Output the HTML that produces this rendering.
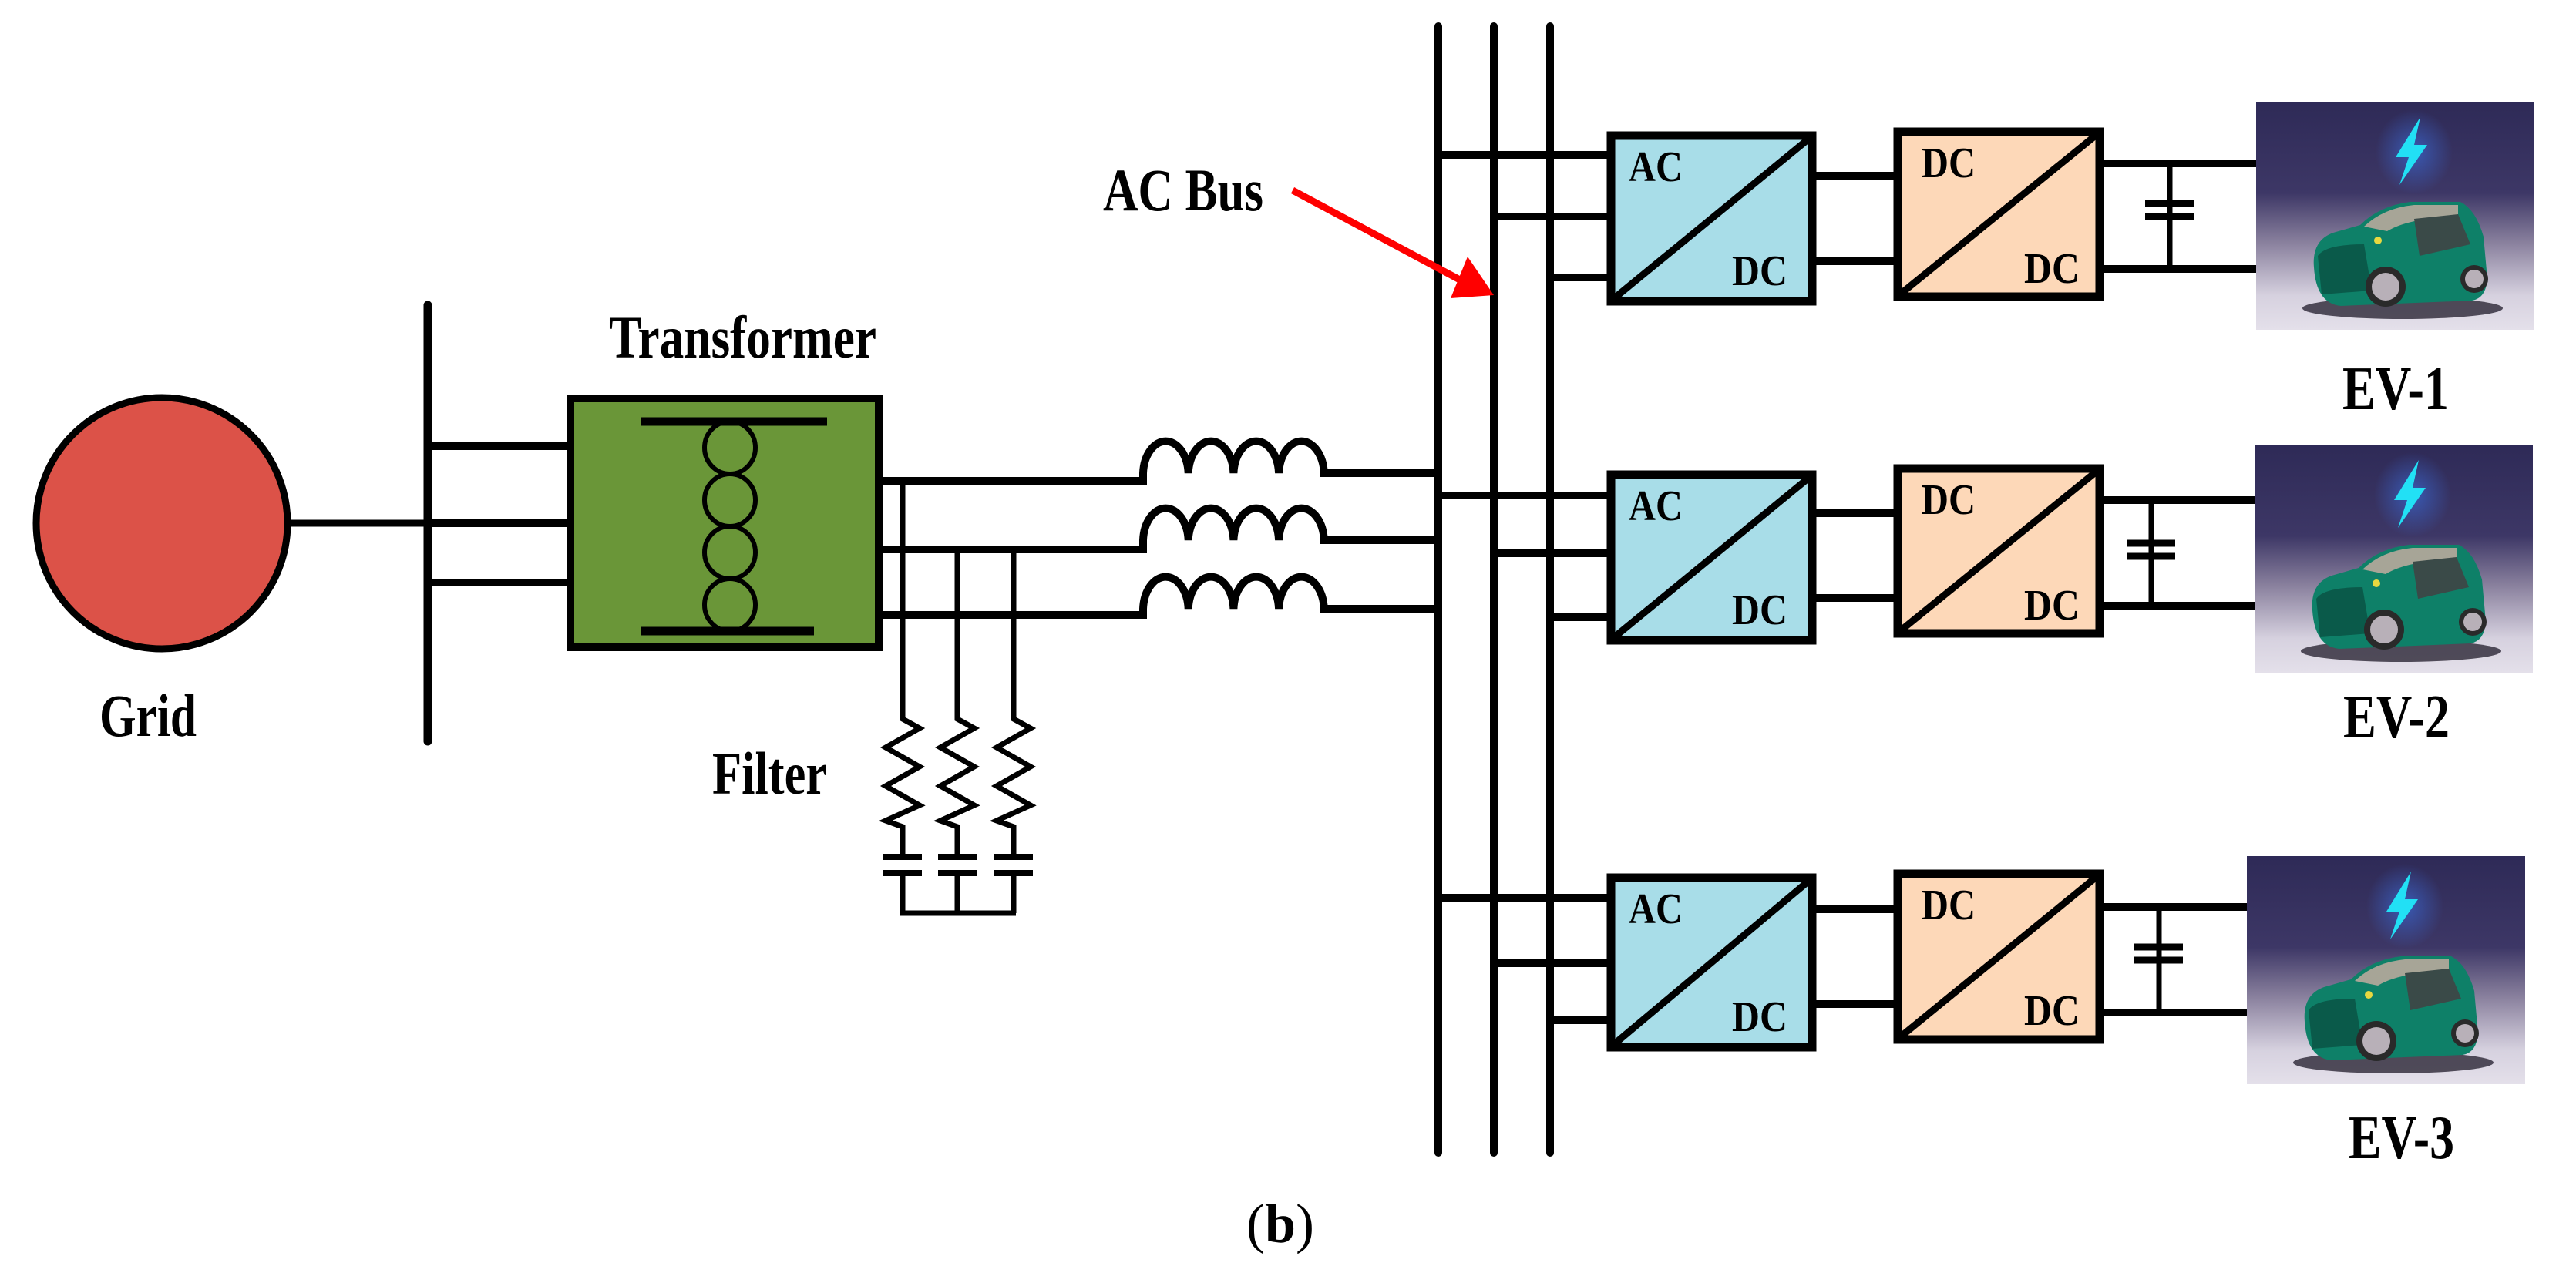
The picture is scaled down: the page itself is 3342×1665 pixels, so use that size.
<!DOCTYPE html>
<html><head><meta charset="utf-8"><style>
html,body{margin:0;padding:0;background:#fff}
svg{display:block}
text{font-family:"Liberation Serif",serif;font-weight:bold;fill:#000}
</style></head><body>
<svg width="3342" height="1665" viewBox="0 0 3342 1665" xmlns="http://www.w3.org/2000/svg">
<defs>
<linearGradient id="bg" x1="0" y1="0" x2="0" y2="1">
<stop offset="0" stop-color="#2e2a57"/><stop offset="0.4" stop-color="#3d3766"/><stop offset="0.62" stop-color="#8a819e"/><stop offset="0.85" stop-color="#d6d1df"/><stop offset="1" stop-color="#e4e0ea"/>
</linearGradient>
<radialGradient id="glow" cx="0.5" cy="0.5" r="0.5"><stop offset="0" stop-color="#3a6ad8" stop-opacity="0.7"/><stop offset="1" stop-color="#3a6ad8" stop-opacity="0"/></radialGradient>
<g id="ev">
<rect x="0" y="0" width="361" height="296" fill="url(#bg)"/>
<ellipse cx="205" cy="65" rx="50" ry="55" fill="url(#glow)"/>
<polygon points="213,20 181,72 198,72 186,108 222,56 205,56" fill="#22e0f5"/>
<ellipse cx="190" cy="268" rx="130" ry="14" fill="#2a2535" opacity="0.8"/>
<path d="M75,215 Q72,180 100,170 L135,160 Q160,135 200,130 L265,130 Q285,140 295,175 L300,230 Q298,255 280,258 L110,265 Q78,262 75,215Z" fill="#0e8068"/>
<path d="M140,162 Q165,138 205,134 L262,134 L262,150 Q200,150 170,168Z" fill="#a7a597"/>
<path d="M205,152 L262,146 L278,185 L212,200Z" fill="#3a4a48"/>
<path d="M80,200 Q90,185 140,185 L150,245 L85,250Z" fill="#0a5a4a"/>
<circle cx="168" cy="240" r="26" fill="#2a2a2a"/><circle cx="168" cy="240" r="18" fill="#b8b0b8"/>
<circle cx="283" cy="230" r="18" fill="#2a2a2a"/><circle cx="283" cy="230" r="12" fill="#b8b0b8"/>
<circle cx="158" cy="180" r="5" fill="#e8d840"/>
</g>
</defs>

<!-- grid -->
<circle cx="210" cy="679" r="163" fill="#dc5248" stroke="#000" stroke-width="9"/>
<line x1="373" y1="679" x2="555" y2="679" stroke="#000" stroke-width="9"/>
<line x1="555" y1="396" x2="555" y2="962" stroke="#000" stroke-width="11" stroke-linecap="round"/>
<g stroke="#000" stroke-width="10">
<line x1="555" y1="579" x2="740" y2="579"/>
<line x1="555" y1="679" x2="740" y2="679"/>
<line x1="555" y1="756" x2="740" y2="756"/>
</g>
<text x="129" y="955" font-size="78" textLength="126" lengthAdjust="spacingAndGlyphs">Grid</text>

<!-- transformer -->
<text x="790" y="464" font-size="78" textLength="347" lengthAdjust="spacingAndGlyphs">Transformer</text>
<rect x="740" y="517" width="400" height="323" fill="#6a9638" stroke="#000" stroke-width="10"/>
<line x1="832" y1="547" x2="1073" y2="547" stroke="#000" stroke-width="11"/>
<line x1="832" y1="819" x2="1056" y2="819" stroke="#000" stroke-width="11"/>
<g fill="none" stroke="#000" stroke-width="6">
<ellipse cx="947" cy="581" rx="33" ry="34"/>
<ellipse cx="947" cy="649" rx="33" ry="34"/>
<ellipse cx="947" cy="717" rx="33" ry="34"/>
<ellipse cx="947" cy="785" rx="33" ry="34"/>
</g>

<!-- lines to coils -->
<g stroke="#000" stroke-width="10" fill="none">
<path d="M1140,624 H1483 V614 a29.4,44 0 0 1 58.7,0 a29.4,44 0 0 1 58.7,0 a29.4,44 0 0 1 58.7,0 a29.4,44 0 0 1 58.7,0 V614 H1866"/>
<path d="M1140,713 H1483 V701 a29.4,44 0 0 1 58.7,0 a29.4,44 0 0 1 58.7,0 a29.4,44 0 0 1 58.7,0 a29.4,44 0 0 1 58.7,0 H1866"/>
<path d="M1140,798 H1483 V790 a29.4,44 0 0 1 58.7,0 a29.4,44 0 0 1 58.7,0 a29.4,44 0 0 1 58.7,0 a29.4,44 0 0 1 58.7,0 H1866"/>
</g>

<!-- filter -->
<g stroke="#000" stroke-width="7" fill="none">
<path d="M1171,624 V933 l22,12 l-44,25 l44,25 l-44,25 l44,25 l-44,20 l22,8 V1112 M1171,1133 V1185"/>
<path d="M1242,713 V933 l22,12 l-44,25 l44,25 l-44,25 l44,25 l-44,20 l22,8 V1112 M1242,1133 V1185"/>
<path d="M1315,713 V933 l22,12 l-44,25 l44,25 l-44,25 l44,25 l-44,20 l22,8 V1112 M1315,1133 V1185"/>
<path d="M1168,1185 H1318"/>
</g>
<g stroke="#000" stroke-width="8">
<line x1="1146" y1="1112" x2="1196" y2="1112"/><line x1="1146" y1="1133" x2="1196" y2="1133"/>
<line x1="1217" y1="1112" x2="1267" y2="1112"/><line x1="1217" y1="1133" x2="1267" y2="1133"/>
<line x1="1290" y1="1112" x2="1340" y2="1112"/><line x1="1290" y1="1133" x2="1340" y2="1133"/>
</g>
<text x="924" y="1030" font-size="78" textLength="149" lengthAdjust="spacingAndGlyphs">Filter</text>

<!-- AC bus -->
<g stroke="#000" stroke-width="10" stroke-linecap="round">
<line x1="1866" y1="34" x2="1866" y2="1496"/>
<line x1="1938" y1="34" x2="1938" y2="1496"/>
<line x1="2011" y1="34" x2="2011" y2="1496"/>
</g>
<text x="1431" y="273" font-size="78" textLength="208" lengthAdjust="spacingAndGlyphs">AC Bus</text>
<line x1="1677" y1="247" x2="1905" y2="369" stroke="#ff0000" stroke-width="9"/>
<polygon points="1938,383 1882,387 1904,333" fill="#ff0000"/>

<!-- row connections -->
<g stroke="#000" stroke-width="10">
<line x1="1866" y1="201" x2="2090" y2="201"/>
<line x1="1938" y1="281" x2="2090" y2="281"/>
<line x1="2011" y1="360" x2="2090" y2="360"/>
<line x1="1866" y1="643" x2="2090" y2="643"/>
<line x1="1938" y1="718" x2="2090" y2="718"/>
<line x1="2011" y1="801" x2="2090" y2="801"/>
<line x1="1866" y1="1165" x2="2090" y2="1165"/>
<line x1="1938" y1="1250" x2="2090" y2="1250"/>
<line x1="2011" y1="1324" x2="2090" y2="1324"/>
<!-- between converters -->
<line x1="2356" y1="228" x2="2460" y2="228"/><line x1="2356" y1="339" x2="2460" y2="339"/>
<line x1="2356" y1="666" x2="2460" y2="666"/><line x1="2356" y1="776" x2="2460" y2="776"/>
<line x1="2356" y1="1180" x2="2460" y2="1180"/><line x1="2356" y1="1303" x2="2460" y2="1303"/>
<!-- to EV -->
<line x1="2729" y1="212" x2="2928" y2="212"/><line x1="2729" y1="349" x2="2928" y2="349"/>
<line x1="2729" y1="649" x2="2925" y2="649"/><line x1="2729" y1="786" x2="2925" y2="786"/>
<line x1="2729" y1="1177" x2="2915" y2="1177"/><line x1="2729" y1="1314" x2="2915" y2="1314"/>
</g>
<g stroke="#000" stroke-width="7">
<line x1="2815" y1="212" x2="2815" y2="349"/>
<line x1="2791" y1="649" x2="2791" y2="786"/>
<line x1="2801" y1="1177" x2="2801" y2="1314"/>
</g>
<g stroke="#000" stroke-width="9">
<line x1="2783" y1="264" x2="2847" y2="264"/><line x1="2783" y1="281" x2="2847" y2="281"/>
<line x1="2760" y1="705" x2="2822" y2="705"/><line x1="2760" y1="722" x2="2822" y2="722"/>
<line x1="2769" y1="1229" x2="2832" y2="1229"/><line x1="2769" y1="1246" x2="2832" y2="1246"/>
</g>

<!-- converters -->
<g transform="translate(2085,171)">
<rect x="5" y="5" width="261" height="215" fill="#a8dde8" stroke="#000" stroke-width="11"/>
<line x1="8" y1="217" x2="263" y2="8" stroke="#000" stroke-width="9"/>
<text x="28" y="64" font-size="56" textLength="70" lengthAdjust="spacingAndGlyphs">AC</text>
<text x="162" y="199" font-size="56" textLength="72" lengthAdjust="spacingAndGlyphs">DC</text>
</g>
<g transform="translate(2085,611)">
<rect x="5" y="5" width="261" height="215" fill="#a8dde8" stroke="#000" stroke-width="11"/>
<line x1="8" y1="217" x2="263" y2="8" stroke="#000" stroke-width="9"/>
<text x="28" y="64" font-size="56" textLength="70" lengthAdjust="spacingAndGlyphs">AC</text>
<text x="162" y="199" font-size="56" textLength="72" lengthAdjust="spacingAndGlyphs">DC</text>
</g>
<g transform="translate(2085,1134)">
<rect x="5" y="5" width="261" height="220" fill="#a8dde8" stroke="#000" stroke-width="11"/>
<line x1="8" y1="222" x2="263" y2="8" stroke="#000" stroke-width="9"/>
<text x="28" y="64" font-size="56" textLength="70" lengthAdjust="spacingAndGlyphs">AC</text>
<text x="162" y="204" font-size="56" textLength="72" lengthAdjust="spacingAndGlyphs">DC</text>
</g>
<g transform="translate(2457,166)">
<rect x="5" y="5" width="262" height="214" fill="#fdd8b8" stroke="#000" stroke-width="11"/>
<line x1="8" y1="216" x2="264" y2="8" stroke="#000" stroke-width="9"/>
<text x="36" y="64" font-size="56" textLength="70" lengthAdjust="spacingAndGlyphs">DC</text>
<text x="169" y="201" font-size="56" textLength="72" lengthAdjust="spacingAndGlyphs">DC</text>
</g>
<g transform="translate(2457,603)">
<rect x="5" y="5" width="262" height="214" fill="#fdd8b8" stroke="#000" stroke-width="11"/>
<line x1="8" y1="216" x2="264" y2="8" stroke="#000" stroke-width="9"/>
<text x="36" y="64" font-size="56" textLength="70" lengthAdjust="spacingAndGlyphs">DC</text>
<text x="169" y="201" font-size="56" textLength="72" lengthAdjust="spacingAndGlyphs">DC</text>
</g>
<g transform="translate(2457,1129)">
<rect x="5" y="5" width="262" height="215" fill="#fdd8b8" stroke="#000" stroke-width="11"/>
<line x1="8" y1="217" x2="264" y2="8" stroke="#000" stroke-width="9"/>
<text x="36" y="64" font-size="56" textLength="70" lengthAdjust="spacingAndGlyphs">DC</text>
<text x="169" y="201" font-size="56" textLength="72" lengthAdjust="spacingAndGlyphs">DC</text>
</g>

<!-- EVs -->
<use href="#ev" transform="translate(2927,132)"/>
<use href="#ev" transform="translate(2925,577)"/>
<use href="#ev" transform="translate(2915,1111)"/>
<text x="3039" y="531" font-size="80" textLength="138" lengthAdjust="spacingAndGlyphs">EV-1</text>
<text x="3040" y="957" font-size="80" textLength="138" lengthAdjust="spacingAndGlyphs">EV-2</text>
<text x="3047" y="1503" font-size="80" textLength="137" lengthAdjust="spacingAndGlyphs">EV-3</text>

<text x="1617" y="1612" font-size="72" font-weight="normal" style="font-weight:normal">(<tspan font-weight="bold">b</tspan>)</text>
</svg>
</body></html>
